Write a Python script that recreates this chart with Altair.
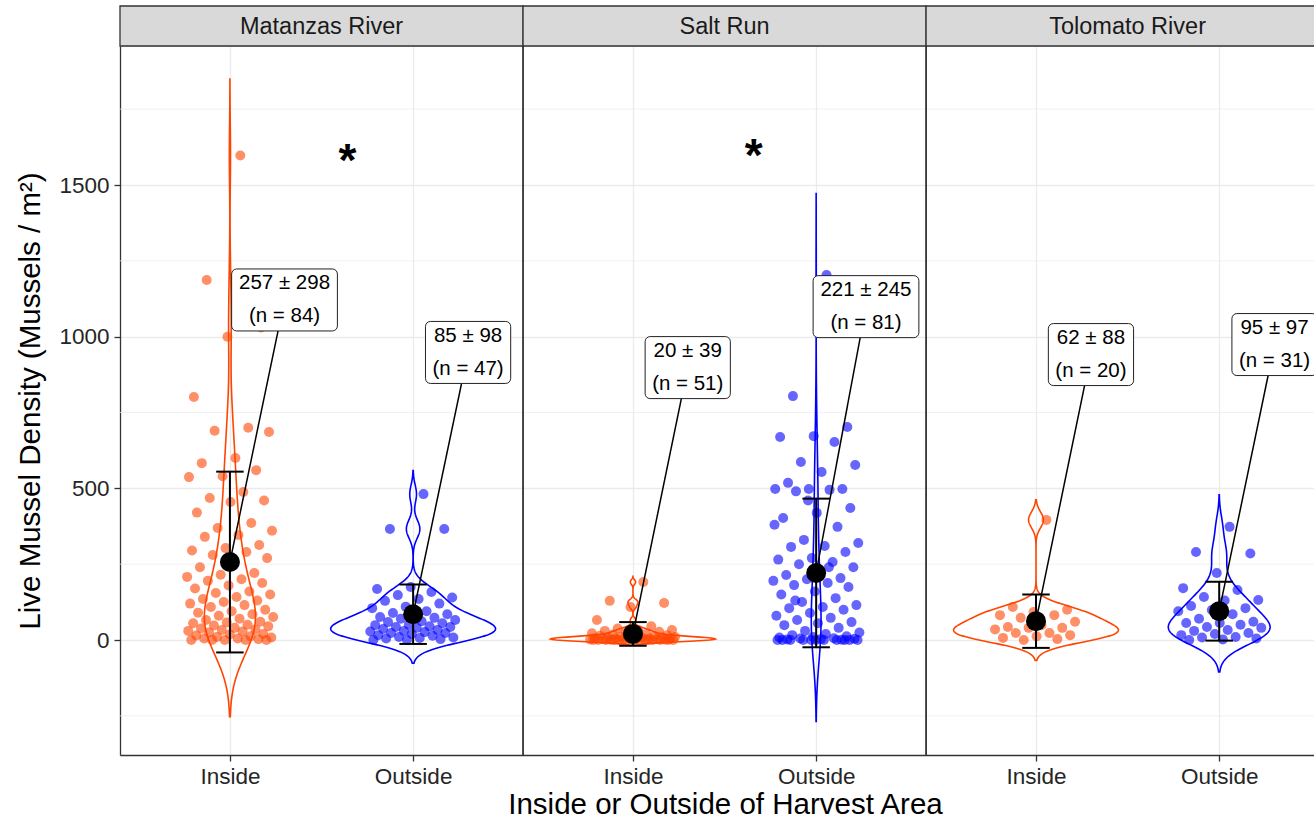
import altair as alt
import pandas as pd

# ---------------- data ----------------
sites = ["Matanzas River", "Salt Run", "Tolomato River"]
zones = ["Inside", "Outside"]

matanzas_inside = [1597, 1187, 1030, 1000, 801, 700, 690, 686, 600, 583,
                   560, 540, 537, 488, 468, 460, 455, 420, 386, 369,
                   360, 346, 340, 313, 303, 295, 290, 280, 270, 257,
                   240, 221, 215, 208, 200, 195, 188, 180, 170, 160,
                   155, 150, 142, 135, 130, 125, 120, 115, 109, 100,
                   95, 90, 85, 80, 76, 70, 66, 60, 58, 55,
                   50, 48, 45, 40, 38, 35, 33, 30, 28, 25,
                   20, 18, 15, 12, 10, 8, 5, 5, 3, 0,
                   0, 0, 0, 0]
matanzas_outside = [481, 366, 366, 175, 168, 158, 148, 140, 135, 129,
                    120, 110, 105, 95, 89, 85, 80, 76, 73, 70,
                    66, 62, 59, 55, 50, 49, 45, 43, 43, 40,
                    36, 33, 30, 28, 26, 23, 23, 20, 16, 14,
                    10, 8, 7, 5, 3, 0, 0]
salt_inside = [191, 129, 122, 109, 66, 45, 38, 33, 33, 30,
               27, 25, 22, 20, 18, 16, 15, 14, 12, 11,
               10, 9, 8, 8, 7, 6, 5, 5, 4, 4,
               3, 3, 2, 2, 2, 1, 1, 1, 0, 0,
               0, 0, 0, 0, 0, 0, 0, 0, 0, 0, 0]
salt_outside = [1203, 804, 702, 672, 669, 653, 587, 577, 554, 518,
                498, 498, 498, 495, 490, 435, 419, 402, 373, 330,
                320, 310, 307, 290, 270, 265, 257, 250, 240, 230,
                214, 204, 200, 195, 188, 181, 175, 160, 150, 138,
                125, 115, 109, 105, 100, 89, 80, 73, 66, 59,
                55, 49, 40, 30, 25, 20, 16, 12, 10, 8,
                6, 5, 4, 3, 2, 1, 460, 380, 240, 130,
                0, 0, 0, 0, 0, 0, 0, 0, 0, 0, 0]
tolomato_inside = [396, 109, 100, 92, 82, 82, 73, 60, 49, 43,
                   40, 40, 35, 23, 23, 16, 12, 7, 3, 0]
tolomato_outside = [373, 290, 285, 221, 171, 165, 142, 132, 130, 112,
                    105, 99, 95, 85, 70, 60, 56, 56, 50, 43,
                    40, 33, 30, 23, 20, 16, 10, 8, 5, 2, 0]

group_values = [matanzas_inside, matanzas_outside, salt_inside,
                salt_outside, tolomato_inside, tolomato_outside]
group_site = [0, 0, 1, 1, 2, 2]
group_zone = [0, 1, 0, 1, 0, 1]

means = [257, 85, 20, 221, 62, 95]
sds = [298, 98, 39, 245, 88, 97]
ns = [84, 47, 51, 81, 20, 31]

# label anchors (data units)
label_x = [1.298, 2.300, 3.499, 4.472, 5.700, 6.702]
label_y = [1121, 948, 898, 1099, 941, 974]

# significance asterisks
star_site = [0, 1]
star_x = [1.641, 3.859]
star_y = [1575, 1592]

y_major = [0, 500, 1000, 1500]
y_minor = [-250, 250, 750, 1250, 1750]

# ---------------- layout ----------------
W, H = 1194, 709
PX_PER_X = 183.2
XMIN = 0.4
XMAX = XMIN + W / PX_PER_X
PX_PER_Y = 455 / 1500
YMAX = 594 / PX_PER_Y
YMIN = YMAX - H / PX_PER_Y
FONT = "Liberation Sans"
ORANGE = "#FF4500"
BLUE = "#0000FF"
LABEL_FS = 20.5
LINE_H = 33

CHAR_EM = {**{d: 0.556 for d in "0123456789"}, " ": 0.278, "±": 0.584,
           "(": 0.333, ")": 0.333, "n": 0.556, "=": 0.584}


def text_px(s):
    return sum(CHAR_EM.get(c, 0.55) for c in s) * LABEL_FS


pts_rows = []
for g, vals in enumerate(group_values):
    for i, v in enumerate(vals):
        pts_rows.append(dict(site=sites[group_site[g]], zone=zones[group_zone[g]],
                             sidx=group_site[g], zidx=group_zone[g], value=v, idx=i))
pts = pd.DataFrame(pts_rows)

grp_rows = []
for g in range(6):
    l1 = f"{means[g]} ± {sds[g]}"
    l2 = f"(n = {ns[g]})"
    box_px = max(text_px(l1), text_px(l2)) + 14
    grp_rows.append(dict(site=sites[group_site[g]], zone=zones[group_zone[g]],
                         sidx=group_site[g], zidx=group_zone[g],
                         mean=means[g], sd=sds[g], n=ns[g],
                         lx=label_x[g], ly=label_y[g],
                         label=l1 + "\n" + l2,
                         hw=box_px / 2 / PX_PER_X, hh=31 / PX_PER_Y))
grp = pd.DataFrame(grp_rows)

strips = pd.DataFrame({"site": sites, "sidx": [0, 1, 2]})
stars = pd.DataFrame({"sidx": star_site, "sx": star_x, "sy": star_y})
minor = pd.DataFrame({"y": y_minor})

POS = "datum.sidx * 2.2 + datum.zidx + 1"

xticks = [s * 2.2 + z + 1 for s in range(3) for z in range(2)]
xscale = alt.Scale(domain=[XMIN, XMAX], nice=False, zero=False)
yscale = alt.Scale(domain=[YMIN, YMAX], nice=False, zero=False)

xaxis = alt.Axis(values=xticks,
                 labelExpr=f"round(datum.value*10) % 22 == 10 ? '{zones[0]}' : '{zones[1]}'",
                 title="Inside or Outside of Harvest Area", titleX=605,
                 grid=True, gridColor="#EBEBEB", gridWidth=1.3,
                 domainColor="#333333", domainWidth=1.3,
                 tickColor="#333333", tickSize=6, tickWidth=1.3,
                 labelFontSize=22.5, labelColor="#262626", labelPadding=4,
                 labelFont=FONT, titleFont=FONT,
                 titleFontSize=29.5, titleColor="black", titleFontWeight="normal",
                 titlePadding=3)
yaxis = alt.Axis(values=y_major, format="d", title="Live Mussel Density (Mussels / m²)",
                 grid=True, gridColor="#EBEBEB", gridWidth=1.3,
                 domainColor="#333333", domainWidth=1.3,
                 tickColor="#333333", tickSize=6, tickWidth=1.3,
                 labelFontSize=22.5, labelColor="#262626", labelPadding=5,
                 labelFont=FONT, titleFont=FONT,
                 titleFontSize=29.5, titleColor="black", titleFontWeight="normal",
                 titlePadding=13)


def X(f):
    return alt.X(f, type="quantitative", scale=xscale, axis=xaxis)


def Y(f):
    return alt.Y(f, type="quantitative", scale=yscale, axis=yaxis)


zone_scale = alt.Scale(domain=zones, range=[ORANGE, BLUE])

# minor gridlines
minor_layer = alt.Chart(minor).mark_rule(color="#EBEBEB", strokeWidth=0.7).encode(y=Y("y"))

# violins
violin = (
    alt.Chart(pts)
    .transform_joinaggregate(
        joinaggregate=[
            alt.JoinAggregateFieldDef(op="min", field="value", **{"as": "vmin"}),
            alt.JoinAggregateFieldDef(op="max", field="value", **{"as": "vmax"}),
            alt.JoinAggregateFieldDef(op="q1", field="value", **{"as": "vq1"}),
            alt.JoinAggregateFieldDef(op="q3", field="value", **{"as": "vq3"}),
            alt.JoinAggregateFieldDef(op="stdev", field="value", **{"as": "vsd"}),
            alt.JoinAggregateFieldDef(op="count", field="value", **{"as": "vn"}),
        ],
        groupby=["site", "zone"],
    )
    .transform_calculate(
        bw="0.9 * min(datum.vsd, (datum.vq3 - datum.vq1) / 1.34) * pow(datum.vn, -0.2)"
    )
    .transform_calculate(lo="datum.vmin - 3 * datum.bw", hi="datum.vmax + 3 * datum.bw")
    .transform_density("value", groupby=["site", "zone", "sidx", "zidx", "lo", "hi"],
                       extent=[-400, 2000], steps=1500, as_=["v", "dens"])
    .transform_joinaggregate(maxd="max(dens)", groupby=["site"])
    .transform_filter("datum.v >= datum.lo && datum.v <= datum.hi")
    .transform_calculate(pos=POS)
    .transform_calculate(w="0.45 * datum.dens / datum.maxd")
    .transform_calculate(xl="datum.pos - datum.w", xr="datum.pos + datum.w")
    .mark_area(orient="horizontal", fillOpacity=0, strokeWidth=1.6)
    .encode(y=Y("v"), x=X("xl"), x2="xr",
            stroke=alt.Stroke("zone:N", scale=zone_scale, legend=None),
            detail=["site:N", "zone:N"])
)

# jittered points
points = (
    alt.Chart(pts)
    .transform_calculate(pos=POS)
    .transform_calculate(jx="datum.pos + ((((datum.idx + 1) * 0.6180339887) % 1) - 0.5) * 0.48")
    .mark_circle(size=100, opacity=0.6)
    .encode(x=X("jx"), y=Y("value"),
            color=alt.Color("zone:N", scale=zone_scale, legend=None))
)

gbase = alt.Chart(grp).transform_calculate(pos=POS).transform_calculate(
    elo="datum.mean - datum.sd", ehi="datum.mean + datum.sd",
    c1="datum.pos - 0.075", c2="datum.pos + 0.075",
    bx1="datum.lx - datum.hw", bx2="datum.lx + datum.hw",
    by1="datum.ly - datum.hh", by2="datum.ly + datum.hh")

err = gbase.mark_rule(color="black", strokeWidth=2).encode(x=X("pos"), y=Y("elo"), y2="ehi")
cap_lo = gbase.mark_rule(color="black", strokeWidth=2).encode(x=X("c1"), x2="c2", y=Y("elo"))
cap_hi = gbase.mark_rule(color="black", strokeWidth=2).encode(x=X("c1"), x2="c2", y=Y("ehi"))
mean_pt = gbase.mark_circle(size=400, color="black", opacity=1).encode(x=X("pos"), y=Y("mean"))
seg = gbase.mark_rule(color="black", strokeWidth=1.5).encode(x=X("pos"), y=Y("mean"), x2="lx", y2="ly")
box = gbase.mark_rect(fill="white", stroke="#222222", strokeWidth=1, cornerRadius=5).encode(
    x=X("bx1"), x2="bx2", y=Y("by1"), y2="by2")
lab = gbase.mark_text(fontSize=LABEL_FS, font=FONT, color="black", lineBreak="\n",
                      lineHeight=LINE_H, baseline="middle", align="center",
                      dy=-LINE_H / 2).encode(
    x=X("lx"), y=Y("ly"), text="label:N")

star = alt.Chart(stars).mark_text(text="*", fontSize=46, fontWeight="bold", font=FONT,
                                  color="black", baseline="middle").encode(x=X("sx"), y=Y("sy"))

sbase = alt.Chart(strips).transform_calculate(left="datum.sidx * 2.2 + 0.4").transform_calculate(
    right="datum.left + 2.2", mid="datum.left + 1.1")
strip_rect = sbase.mark_rect(fill="#D9D9D9", stroke="#333333", strokeWidth=1.3).encode(
    x=X("left"), x2="right", y=alt.value(-40), y2=alt.value(0))
strip_text = sbase.mark_text(fontSize=23.5, font=FONT, color="#1A1A1A", baseline="middle").encode(
    x=X("mid"), y=alt.value(-18.6), text="site:N")
sep = sbase.mark_rule(color="#333333", strokeWidth=1.8).encode(
    x=X("right"), y=alt.value(0), y2=alt.value(H))

chart = alt.layer(
    minor_layer, violin, points, err, cap_lo, cap_hi, mean_pt, seg, box, lab, star,
    strip_rect, strip_text, sep
).properties(
    width=W, height=H,
    autosize=alt.AutoSizeParams(type="none"),
    padding={"left": 120, "top": 46, "right": 0, "bottom": 69},
    background="white",
).configure_view(strokeWidth=0).configure(font=FONT)

chart.save("out.html", embed_options={"renderer": "svg", "actions": False})
